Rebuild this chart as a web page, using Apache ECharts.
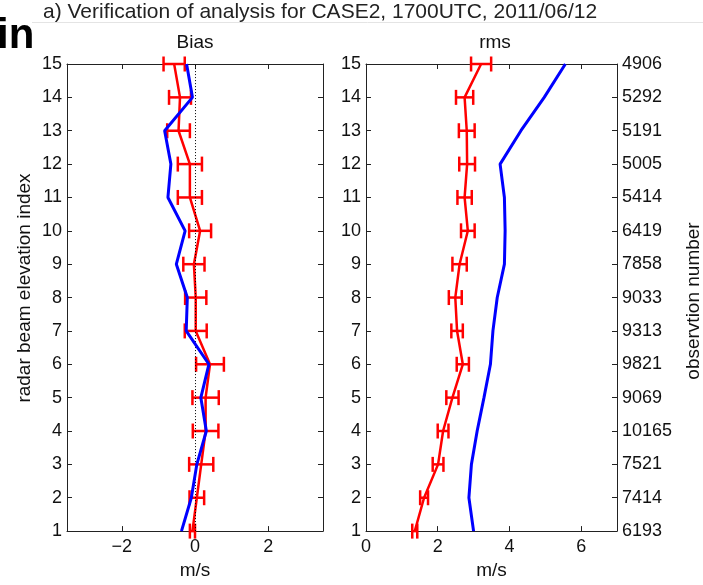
<!DOCTYPE html>
<html>
<head>
<meta charset="utf-8">
<script src="https://cdn.jsdelivr.net/npm/echarts@6/dist/echarts.min.js"></script>
<style>
html,body{margin:0;padding:0;background:#fff;}
#chart{width:703px;height:585px;}
</style>
</head>
<body>
<div id="chart"></div>
<script>
// elevation index levels (y)
const levels = [1,2,3,4,5,6,7,8,9,10,11,12,13,14,15];
// Bias panel
const biasRed    = [-0.07, 0.05, 0.17, 0.29, 0.29, 0.41, 0.02, 0.02, -0.03, 0.14, -0.14, -0.14, -0.45, -0.41, -0.57];
const biasRedErr = [0.07, 0.20, 0.33, 0.35, 0.36, 0.38, 0.30, 0.29, 0.29, 0.30, 0.33, 0.33, 0.31, 0.30, 0.29];
const biasBlue   = [-0.37, -0.10, 0.05, 0.31, 0.16, 0.38, -0.24, -0.21, -0.51, -0.27, -0.74, -0.66, -0.83, -0.07, -0.23];
// rms panel
const rmsRed     = [1.36, 1.62, 2.01, 2.15, 2.41, 2.70, 2.54, 2.49, 2.61, 2.84, 2.75, 2.82, 2.81, 2.75, 3.21];
const rmsRedErr  = [0.07, 0.11, 0.15, 0.15, 0.17, 0.17, 0.16, 0.18, 0.20, 0.19, 0.20, 0.22, 0.22, 0.24, 0.28];
const rmsBlue    = [3.00, 2.87, 2.94, 3.10, 3.29, 3.47, 3.54, 3.66, 3.86, 3.88, 3.86, 3.74, 4.32, 4.97, 5.56];
// observation numbers per level (1..15)
const obsNumbers = ['6193','7414','7521','10165','9069','9821','9313','9033','7858','6419','5414','5005','5191','5292','4906'];
// tick labels
const biasTicks = [-2, 0, 2];
const rmsTicks = [0, 2, 4, 6];

const FONT = '"Liberation Sans", Arial, Helvetica, sans-serif';
const AX = '#222';
const TXT = '#111';

function xAx(grid, pos, min, max, ticks, showLabel) {
  return {
    type: 'value', gridIndex: grid, position: pos, min: min, max: max,
    axisLine: {show: true, onZero: false, lineStyle: {color: AX, width: 1}},
    axisTick: {show: true, inside: true, length: 5, customValues: ticks, lineStyle: {color: AX}},
    axisLabel: {show: showLabel, customValues: ticks, margin: 7, fontFamily: FONT, fontSize: 18, color: TXT,
      formatter: v => (v < 0 ? '\u2212' + Math.abs(v) : String(v))},
    splitLine: {show: false},
    name: showLabel ? 'm/s' : '', nameLocation: 'middle', nameGap: 29,
    nameTextStyle: {fontFamily: FONT, fontSize: 19, color: TXT}
  };
}
function yAx(grid, pos, showLabel, fmt) {
  return {
    type: 'value', gridIndex: grid, position: pos, min: 1, max: 15, interval: 1,
    axisLine: {show: true, onZero: false, lineStyle: {color: AX, width: 1}},
    axisTick: {show: true, inside: true, length: 5, lineStyle: {color: AX}},
    axisLabel: {show: showLabel, margin: 5, fontFamily: FONT, fontSize: 18, color: TXT, formatter: fmt},
    splitLine: {show: false}
  };
}

function errSeries(xi, yi, vals, errs) {
  return {
    type: 'custom', xAxisIndex: xi, yAxisIndex: yi, z: 3, clip: false,
    encode: {x: 0, y: 1},
    data: levels.map((l, i) => [vals[i], l, errs[i]]),
    renderItem: function (params, api) {
      const x = api.value(0), y = api.value(1), e = api.value(2);
      const a = api.coord([x - e, y]);
      const b = api.coord([x + e, y]);
      const h = 7.5;
      const st = {stroke: '#ff0000', lineWidth: 2.5};
      return {type: 'group', children: [
        {type: 'line', shape: {x1: a[0], y1: a[1], x2: b[0], y2: b[1]}, style: st},
        {type: 'line', shape: {x1: a[0], y1: a[1] - h, x2: a[0], y2: a[1] + h}, style: st},
        {type: 'line', shape: {x1: b[0], y1: b[1] - h, x2: b[0], y2: b[1] + h}, style: st}
      ]};
    }
  };
}
function lineSeries(xi, yi, vals, color, w, z) {
  return {
    type: 'line', xAxisIndex: xi, yAxisIndex: yi, z: z, clip: false,
    data: levels.map((l, i) => [vals[i], l]),
    showSymbol: false, symbol: 'none', animation: false,
    lineStyle: {color: color, width: w}
  };
}

const chart = echarts.init(document.getElementById('chart'), null, {renderer: 'canvas'});
chart.setOption({
  animation: false,
  backgroundColor: '#fff',
  grid: [
    {left: 67, top: 64, width: 256, height: 471, containLabel: false},
    {left: 366, top: 64, width: 251, height: 471, containLabel: false}
  ],
  xAxis: [
    xAx(0, 'bottom', -3.5, 3.5, biasTicks, true),
    xAx(0, 'top', -3.5, 3.5, biasTicks, false),
    xAx(1, 'bottom', 0, 7, rmsTicks, true),
    xAx(1, 'top', 0, 7, rmsTicks, false)
  ],
  yAxis: [
    yAx(0, 'left', true),
    yAx(0, 'right', false),
    yAx(1, 'left', true),
    yAx(1, 'right', true, v => obsNumbers[v - 1])
  ],
  series: [
    {
      type: 'line', xAxisIndex: 0, yAxisIndex: 0, data: [], silent: true,
      markLine: {symbol: 'none', silent: true, label: {show: false},
        lineStyle: {color: '#000', width: 1, type: [1, 2]},
        data: [{xAxis: 0}]}
    },
    lineSeries(0, 0, biasRed, '#ff0000', 2.5, 4),
    errSeries(0, 0, biasRed, biasRedErr),
    lineSeries(0, 0, biasBlue, '#0000ff', 3, 5),
    lineSeries(2, 2, rmsRed, '#ff0000', 2.5, 4),
    errSeries(2, 2, rmsRed, rmsRedErr),
    lineSeries(2, 2, rmsBlue, '#0000ff', 3, 5)
  ],
  graphic: [
    {type: 'line', shape: {x1: 32, y1: 22.5, x2: 703, y2: 22.5}, style: {stroke: '#e4e4e4', lineWidth: 1}},
    {type: 'text', x: -3, y: 36, style: {text: 'in', font: 'bold 42px ' + FONT, fill: '#000', textVerticalAlign: 'middle'}},
    {type: 'text', x: 43, y: 12, style: {text: 'a) Verification of analysis for CASE2, 1700UTC, 2011/06/12', font: '21px ' + FONT, fill: '#222', textVerticalAlign: 'middle'}},
    {type: 'text', x: 195, y: 43, style: {text: 'Bias', font: '19px ' + FONT, fill: TXT, textAlign: 'center', textVerticalAlign: 'middle'}},
    {type: 'text', x: 495, y: 43, style: {text: 'rms', font: '19px ' + FONT, fill: TXT, textAlign: 'center', textVerticalAlign: 'middle'}},
    {type: 'text', x: 25, y: 288, rotation: Math.PI / 2, style: {text: 'radar beam elevation index', font: '19px ' + FONT, fill: TXT, textAlign: 'center', textVerticalAlign: 'middle'}},
    {type: 'text', x: 694, y: 301, rotation: Math.PI / 2, style: {text: 'observtion number', font: '19px ' + FONT, fill: TXT, textAlign: 'center', textVerticalAlign: 'middle'}}
  ]
});
</script>
</body>
</html>
